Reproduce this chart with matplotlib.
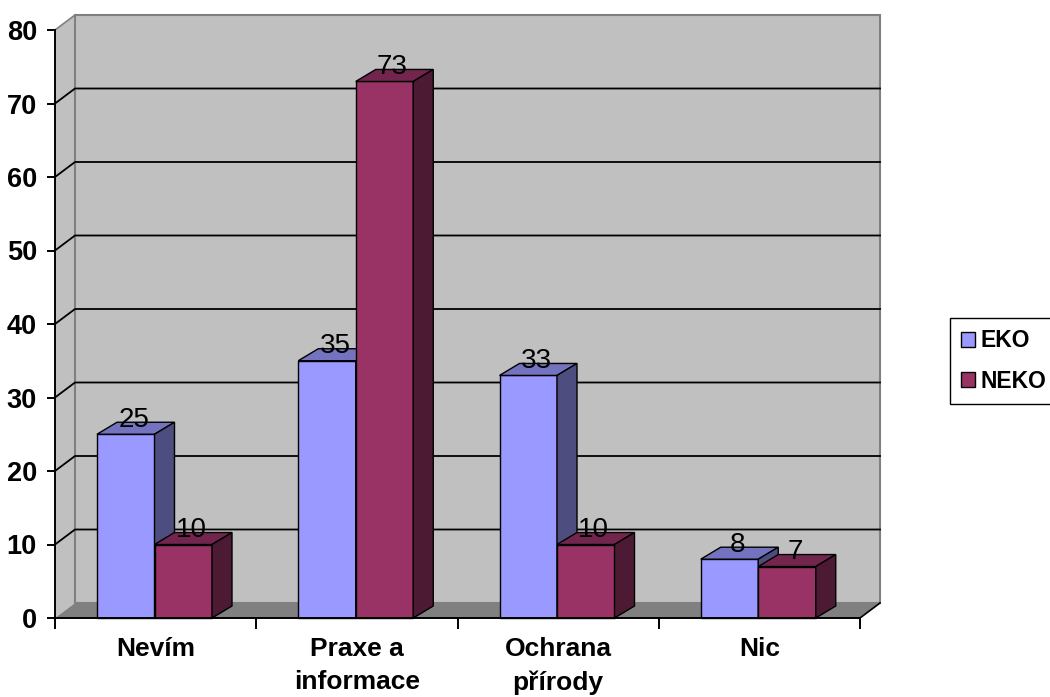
import matplotlib
matplotlib.use('Agg')
import matplotlib.pyplot as plt
from matplotlib.patches import Polygon, Patch

# data
categories = ['Nevím', 'Praxe a\ninformace', 'Ochrana\npřírody', 'Nic']
series_names = ['EKO', 'NEKO']
eko = [25, 35, 33, 8]
neko = [10, 73, 10, 7]
y_ticks = [0, 10, 20, 30, 40, 50, 60, 70, 80]

# colours: front, top, side
eko_colors = ('#9999FF', '#7373BF', '#4D4D80')
neko_colors = ('#993366', '#73264D', '#4D1A33')

plt.rcParams['font.family'] = ['Liberation Sans', 'DejaVu Sans']

W, H = 1050, 697
fig = plt.figure(figsize=(W / 100, H / 100), dpi=100)
ax = fig.add_axes([55 / W, (H - 618) / H, 805 / W, 588 / H])
n = len(categories)
ymax = y_ticks[-1]
ax.set_xlim(0, n)
ax.set_ylim(0, ymax)
ax.set_facecolor('none')

# pixel -> data unit factors
px_x = 805 / n
px_y = 588 / ymax
wall_dx, wall_dy = 20 / px_x, 15 / px_y
bar_dx, bar_dy = 20 / px_x, 12 / px_y
bar_w = 57.5 / px_x
group_off = 42 / px_x

# walls and floor
left_wall = Polygon([(0, 0), (wall_dx, wall_dy), (wall_dx, ymax + wall_dy), (0, ymax)],
                    facecolor='#C0C0C0', edgecolor='none', clip_on=False, zorder=1)
back_wall = Polygon([(wall_dx, wall_dy), (n + wall_dx, wall_dy), (n + wall_dx, ymax + wall_dy),
                     (wall_dx, ymax + wall_dy)],
                    facecolor='#C0C0C0', edgecolor='#808080', linewidth=1.5, clip_on=False, zorder=1)
floor = Polygon([(0, 0), (n, 0), (n + wall_dx, wall_dy), (wall_dx, wall_dy)],
                facecolor='#808080', edgecolor='none', clip_on=False, zorder=1.1)
for p in (left_wall, back_wall, floor):
    ax.add_patch(p)
ax.plot([0, wall_dx], [ymax, ymax + wall_dy], color='#808080', lw=1.2, clip_on=False, zorder=1.2)
ax.plot([n, n + wall_dx], [0, wall_dy], color='black', lw=1.2, clip_on=False, zorder=1.2)

# gridlines on side and back wall
for v in y_ticks[1:-1]:
    ax.plot([0, wall_dx, n + wall_dx], [v, v + wall_dy, v + wall_dy],
            color='black', lw=1.3, clip_on=False, zorder=1.3)


def draw_bar(x0, v, colors):
    front, top, side = colors
    x1 = x0 + bar_w
    kw = dict(edgecolor='black', linewidth=1.0, clip_on=False, zorder=3, joinstyle='miter')
    ax.add_patch(Polygon([(x0, 0), (x1, 0), (x1, v), (x0, v)], facecolor=front, **kw))
    ax.add_patch(Polygon([(x0, v), (x1, v), (x1 + bar_dx, v + bar_dy), (x0 + bar_dx, v + bar_dy)],
                         facecolor=top, **kw))
    ax.add_patch(Polygon([(x1, 0), (x1 + bar_dx, bar_dy), (x1 + bar_dx, v + bar_dy), (x1, v)],
                         facecolor=side, **kw))
    ax.text(x0 + bar_w / 2 + 0.04, v + 2.0, str(v), ha='center', va='center',
            fontsize=20, color='black', zorder=4)


for i in range(n):
    x0 = i + group_off
    draw_bar(x0, eko[i], eko_colors)
    draw_bar(x0 + bar_w, neko[i], neko_colors)

# axes
for s in ('top', 'right'):
    ax.spines[s].set_visible(False)
for s in ('left', 'bottom'):
    ax.spines[s].set_color('black')
    ax.spines[s].set_linewidth(1.4)
    ax.spines[s].set_zorder(5)

ax.set_yticks(y_ticks, [str(t) for t in y_ticks], fontweight='bold', fontsize=19.5)
ax.tick_params(axis='y', length=6, width=1.4, pad=7)
ax.set_xticks(range(n + 1), [''] * (n + 1))
ax.tick_params(axis='x', which='major', length=8, width=1.4)
ax.set_xticks([i + 0.5 for i in range(n)], categories, minor=True, fontweight='bold',
              fontsize=19, linespacing=1.45)
ax.tick_params(axis='x', which='minor', length=0, pad=14)

handles = [Patch(facecolor=eko_colors[0], edgecolor='black'),
           Patch(facecolor=neko_colors[0], edgecolor='black')]
leg = fig.legend(handles, series_names, loc='upper left', bbox_to_anchor=(950 / W, 1 - 318 / H),
                 prop={'weight': 'bold', 'size': 16.5}, frameon=True, fancybox=False,
                 edgecolor='black', framealpha=1, handlelength=0.6, handleheight=0.6,
                 handletextpad=0.25, labelspacing=0.75, borderpad=0.5, borderaxespad=0)
leg.get_frame().set_linewidth(1.0)

fig.savefig('out.png', dpi=100)
